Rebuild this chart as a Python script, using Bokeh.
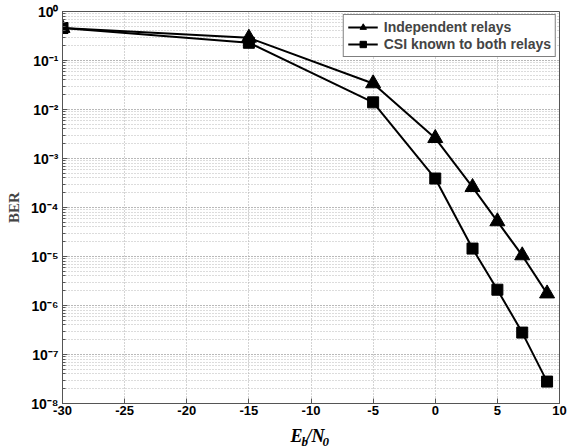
import numpy as np
from bokeh.plotting import figure
from bokeh.layouts import column
from bokeh.models import FixedTicker, LogTicker, Legend, LegendItem, Label
from bokeh.embed import file_html
from bokeh.resources import INLINE

ebn0 = [-30, -15, -5, 0, 3, 5, 7, 9]
ber_independent = [0.46, 0.29, 0.034, 2.6e-3, 2.6e-4, 5.2e-5, 1.05e-5, 1.75e-6]
ber_csi = [0.46, 0.23, 0.014, 3.9e-4, 1.45e-5, 2.1e-6, 2.8e-7, 2.8e-8]
series_names = ["Independent relays", "CSI known to both relays"]
x_ticks = [-30, -25, -20, -15, -10, -5, 0, 5, 10]
x_tick_labels = ["-30", "-25", "-20", "-15", "-10", "-5", "0", "5", "10"]
y_ticks = [1e0, 1e-1, 1e-2, 1e-3, 1e-4, 1e-5, 1e-6, 1e-7, 1e-8]
y_tick_labels = ["10⁰", "10⁻¹", "10⁻²", "10⁻³", "10⁻⁴", "10⁻⁵", "10⁻⁶", "10⁻⁷", "10⁻⁸"]
x_label_parts = ["E", "b", "/N", "0"]

p = figure(width=568, height=420, y_axis_type="log", x_range=(-30, 10), y_range=(1e-8, 1),
           output_backend="svg", toolbar_location=None,
           min_border_left=62, min_border_right=9, min_border_top=11, min_border_bottom=17)
p.background_fill_color = "white"
p.border_fill_color = "white"
p.outline_line_color = "#555555"
p.outline_line_width = 1

p.xaxis.ticker = FixedTicker(ticks=x_ticks)
p.xaxis.major_label_overrides = {t: l for t, l in zip(x_ticks, x_tick_labels)}
p.yaxis.ticker = LogTicker(num_minor_ticks=10)
p.yaxis.major_label_overrides = {t: l for t, l in zip(y_ticks, y_tick_labels)}

for ax in (p.xaxis[0], p.yaxis[0]):
    ax.major_tick_in = 5
    ax.major_tick_out = 0
    ax.minor_tick_in = 3
    ax.minor_tick_out = 0
    ax.axis_line_color = "#555555"
    ax.major_tick_line_color = "#555555"
    ax.minor_tick_line_color = "#555555"
    ax.major_label_text_font = "Liberation Sans"
    ax.major_label_text_font_style = "bold"
    ax.major_label_text_font_size = "14px"
    ax.major_label_text_color = "black"
p.xaxis.minor_tick_line_color = None
p.xaxis.major_label_text_font_size = "13px"
p.xaxis.major_label_standoff = 2
p.yaxis.major_label_standoff = 4

p.yaxis.axis_label = "BER"
p.yaxis.axis_label_text_font = "Liberation Serif"
p.yaxis.axis_label_text_font_style = "bold"
p.yaxis.axis_label_text_font_size = "15px"
p.yaxis.axis_label_standoff = 6

p.xgrid.grid_line_color = "#a8a8a8"
p.xgrid.grid_line_dash = "1 2"
p.ygrid.grid_line_color = "#a8a8a8"
p.ygrid.grid_line_dash = "1 2"
p.ygrid.minor_grid_line_color = "#b8b8b8"
p.ygrid.minor_grid_line_dash = "1 2"

l1 = p.line(ebn0, ber_independent, line_color="black", line_width=2)
m1 = p.scatter(ebn0, ber_independent, marker="triangle", size=15, fill_color="black", line_color="black")
l2 = p.line(ebn0, ber_csi, line_color="black", line_width=2)
m2 = p.scatter(ebn0, ber_csi, marker="square", size=11, fill_color="black", line_color="black")

legend = Legend(items=[LegendItem(label=series_names[0], renderers=[l1, m1]),
                       LegendItem(label=series_names[1], renderers=[l2, m2])],
                location="top_right", margin=3, padding=4, spacing=1,
                label_text_font="Liberation Sans", label_text_font_style="bold",
                label_text_font_size="14px", label_height=16, glyph_height=16, glyph_width=30,
                label_standoff=6, border_line_color="black", border_line_width=1,
                background_fill_alpha=1.0)
p.add_layout(legend)

# strip below the chart holding the x-axis title E_b/N_0 (with subscripts);
# it shares the chart's x range, and the column aligns its frame with the chart's frame
lab = figure(width=568, height=28, x_range=p.x_range, y_range=(0, 28),
             output_backend="svg", toolbar_location=None,
             x_axis_location=None, y_axis_location=None,
             min_border_left=62, min_border_right=9, min_border_top=0, min_border_bottom=0)
lab.outline_line_color = None
lab.xgrid.visible = False
lab.ygrid.visible = False
lab.border_fill_color = "white"
lab.background_fill_color = "white"
positions = [(-11.65, 13, "18px"), (-10.77, 7, "13px"), (-10.36, 13, "18px"), (-9.07, 7, "13px")]
for txt, (xx, yy, fs) in zip(x_label_parts, positions):
    lab.add_layout(Label(x=xx, y=yy, text=txt, text_font="Liberation Serif",
                         text_font_style="bold italic", text_font_size=fs,
                         text_baseline="alphabetic", text_align="left", text_color="black"))

layout = column(p, lab, spacing=0)
open("out.html", "w").write(file_html(layout, INLINE))
